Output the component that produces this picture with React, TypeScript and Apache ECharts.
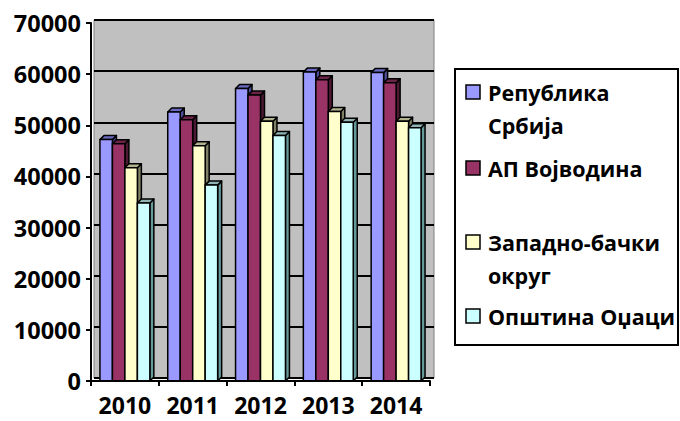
import React, { useEffect, useRef } from "react";
import * as echarts from "echarts";

const years = ["2010", "2011", "2012", "2013", "2014"];
const seriesNames = ["Република\nСрбија", "АП Војводина", "Западно-бачки\nокруг", "Општина Оџаци"];
const republika = [47200, 52600, 57200, 60400, 60300];
const vojvodina = [46400, 51100, 55900, 58900, 58300];
const zapadnoBacki = [41700, 46000, 50800, 52700, 50800];
const odzaci = [34800, 38300, 48000, 50600, 49500];
const yTicks = [0, 10000, 20000, 30000, 40000, 50000, 60000, 70000];

const allValues = [republika, vojvodina, zapadnoBacki, odzaci];
const frontColors = ["#9999FF", "#993366", "#FFFFCC", "#CCFFFF"];
const topColors = ["#6b6bc4", "#6b2447", "#b3b38f", "#8fb3b3"];
const sideColors = ["#4d4d99", "#4d1a33", "#808066", "#669999"];

const FONT = "'Open Sans', sans-serif";
const GROUP = 0.736;
const D = 4;

export default function App() {
  const ref = useRef<HTMLDivElement>(null);
  useEffect(() => {
    if (!ref.current) return;
    const chart = echarts.init(ref.current, undefined, { renderer: "svg" });
    const series: any[] = allValues.map((vals, si) => ({
      type: "custom",
      name: seriesNames[si],
      xAxisIndex: 0,
      yAxisIndex: 0,
      data: vals.map((v, i) => [i, v]),
      z: 5 + si,
      renderItem: (params: any, api: any) => {
        const ci = api.value(0);
        const v = api.value(1);
        const base = api.coord([ci, 0]);
        const top = api.coord([ci, v]);
        const cw = api.size([1, 0])[0];
        const gw = cw * GROUP;
        const bw = gw / 4;
        const x = base[0] - gw / 2 + si * bw;
        const y = top[1];
        const yb = base[1];
        const stroke = { stroke: "#000", lineWidth: 1.5, lineJoin: "round" };
        return {
          type: "group",
          children: [
            {
              type: "polygon",
              shape: { points: [[x + bw, y], [x + bw + D, y - D], [x + bw + D, yb - D], [x + bw, yb]] },
              style: { fill: sideColors[si], ...stroke },
            },
            {
              type: "polygon",
              shape: { points: [[x, y], [x + D, y - D], [x + bw + D, y - D], [x + bw, y]] },
              style: { fill: topColors[si], ...stroke },
            },
            {
              type: "rect",
              shape: { x: x, y: y, width: bw, height: yb - y },
              style: { fill: frontColors[si], ...stroke },
            },
          ],
        };
      },
    }));

    const legendChildren: any[] = [
      {
        type: "rect",
        shape: { x: 455, y: 69, width: 223, height: 276 },
        style: { fill: "#fff", stroke: "#000", lineWidth: 2 },
      },
    ];
    const firstLine = [92, 168, 242, 316];
    seriesNames.forEach((n, i) => {
      legendChildren.push({
        type: "rect",
        shape: { x: 466, y: firstLine[i] - 7, width: 14, height: 14 },
        style: { fill: frontColors[i], stroke: "#000", lineWidth: 1.5 },
      });
      legendChildren.push({
        type: "text",
        x: 488,
        y: firstLine[i] - 16.5,
        style: {
          text: n,
          font: `bold 21.5px ${FONT}`,
          fill: "#000",
          lineHeight: 33,
          verticalAlign: "top",
          align: "left",
        },
      });
    });

    const option: any = {
      animation: false,
      backgroundColor: "#fff",
      grid: [
        { left: 91, top: 23, width: 339, height: 358, show: false },
        {
          left: 94,
          top: 20,
          width: 340,
          height: 358,
          show: true,
          backgroundColor: "#C0C0C0",
          borderColor: "#808080",
          borderWidth: 1,
          z: 0,
        },
      ],
      xAxis: [
        {
          type: "category",
          gridIndex: 0,
          data: years,
          axisLine: { lineStyle: { color: "#000", width: 2 } },
          axisTick: { show: true, length: 5, lineStyle: { color: "#000", width: 2 } },
          axisLabel: {
            color: "#000",
            fontFamily: FONT,
            fontWeight: "bold",
            fontSize: 23,
            lineHeight: 22,
            margin: 13,
            interval: 0,
            hideOverlap: false,
          },
          z: 10,
        },
        { type: "category", gridIndex: 1, data: years, show: false },
      ],
      yAxis: [
        {
          type: "value",
          gridIndex: 0,
          min: 0,
          max: 70000,
          interval: 10000,
          axisLine: { show: true, lineStyle: { color: "#000", width: 2 } },
          axisTick: { show: true, length: 5, lineStyle: { color: "#000", width: 2 } },
          axisLabel: {
            color: "#000",
            fontFamily: FONT,
            fontWeight: "bold",
            fontSize: 23.5,
            margin: 10,
            formatter: (v: number) => (yTicks.indexOf(v) >= 0 ? String(v) : ""),
          },
          splitLine: { show: false },
          z: 10,
        },
        {
          type: "value",
          gridIndex: 1,
          min: 0,
          max: 70000,
          interval: 10000,
          axisLine: { show: false },
          axisTick: { show: false },
          axisLabel: { show: false },
          splitLine: { show: true, lineStyle: { color: "#000", width: 2 } },
        },
      ],
      series,
      graphic: [{ type: "group", children: legendChildren }],
    };
    chart.setOption(option);
    return () => chart.dispose();
  }, []);
  return (
    <div
      ref={ref}
      style={{ position: "fixed", left: 0, top: 0, width: 680, height: 421 }}
    />
  );
}
